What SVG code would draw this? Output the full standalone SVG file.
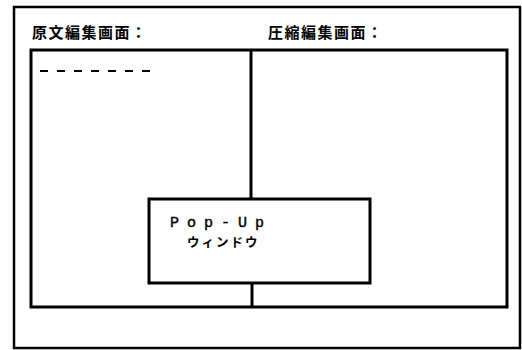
<svg xmlns="http://www.w3.org/2000/svg" width="522" height="350" viewBox="0 0 522 350">
<style>
.frame{fill:none;stroke:#000;stroke-width:2.5}
.box{fill:none;stroke:#000;stroke-width:3}
.pop{fill:#fff;stroke:#000;stroke-width:3}
.conn{stroke:#000;stroke-width:3;fill:none}
.title{font-family:"Noto Sans CJK JP",sans-serif;font-weight:bold;font-size:15px;letter-spacing:1.5px;fill:#000}
.lat{font-family:"Liberation Mono",monospace;font-size:15px;letter-spacing:8px;fill:#000;stroke:#000;stroke-width:0.4}
.kana{font-family:"Noto Sans CJK JP",sans-serif;font-weight:bold;font-size:12.5px;letter-spacing:2px;fill:#000}
</style>
<rect width="522" height="350" fill="#fff"/>
<g id="outer-frame"><rect class="frame" x="14" y="7" width="506" height="341"/></g>
<g id="title-left"><text class="title" x="32" y="38">原文編集画面：</text></g>
<g id="title-right"><text class="title" x="268" y="38">圧縮編集画面：</text></g>
<g id="edit-area"><rect class="box" x="31" y="50" width="476" height="257"/></g>
<g id="dashes"><line x1="40" y1="71" x2="150" y2="71" stroke="#000" stroke-width="2" stroke-dasharray="8,9"/></g>
<g id="connectors">
<line class="conn" x1="251" y1="50" x2="251" y2="199"/>
<line class="conn" x1="252" y1="283" x2="252" y2="307"/>
</g>
<g id="popup">
<rect class="pop" x="149" y="199" width="221" height="84"/>
<text class="lat" x="170" y="227">Pop-Up</text>
<text class="kana" x="187" y="247">ウィンドウ</text>
</g>
</svg>
